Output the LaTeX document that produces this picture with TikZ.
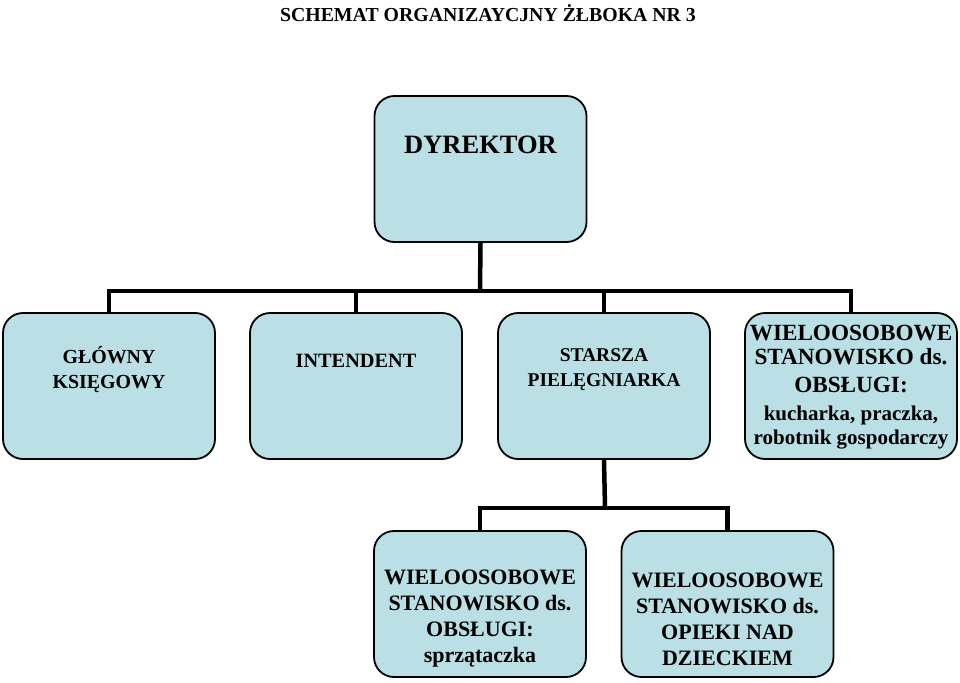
\documentclass[tikz,border=0pt]{standalone}
\usepackage{fontspec}
\setmainfont{Liberation Serif}
\definecolor{boxfill}{RGB}{186,223,228}
\begin{document}
\begin{tikzpicture}[x=1pt,y=-1pt,
  box/.style={draw=black, line width=1.8pt, fill=boxfill, rounded corners=20pt, minimum width=212pt, minimum height=146pt, inner sep=0pt},
  conn/.style={line width=4.5pt, line join=miter},
  txt/.style={align=center, font=\bfseries, inner sep=0pt}]
\useasboundingbox (0,0) rectangle (960,682);
\fill[white] (0,0) rectangle (960,682);
\node[txt, font=\bfseries\fontsize{19.8}{23}\selectfont] (title) at (488,13) {SCHEMAT ORGANIZAYCJNY ŻŁBOKA NR 3};
% boxes
\node[box] (dyr) at (480.5,169) {};
\node[box] (gk) at (109,386) {};
\node[box] (int) at (356,386) {};
\node[box] (sp) at (604,386) {};
\node[box] (wo) at (851,386) {};
\node[box] (ws) at (480,604) {};
\node[box] (wd) at (727.5,604) {};
% connectors
\coordinate (bus) at (480,291);
\coordinate (bus2) at (605,508);
\draw[conn] (dyr.south) -- (bus);
\draw[conn] (gk.north) |- (bus);
\draw[conn] (int.north) |- (bus);
\draw[conn] (sp.north) |- (bus);
\draw[conn] (wo.north) |- (bus);
\draw[conn] (sp.south) -- (bus2);
\draw[conn] (ws.north) |- (bus2);
\draw[conn] (wd.north) |- (bus2);
% texts
\node[txt, font=\bfseries\fontsize{26.5}{30}\selectfont] (tdyr) at (480.5,145) {DYREKTOR};
\node[txt, font=\bfseries\fontsize{19.9}{25}\selectfont] (tgk) at (109,369.5) {GŁÓWNY\\KSIĘGOWY};
\node[txt, font=\bfseries\fontsize{20.3}{25}\selectfont] (tint) at (356,360.5) {INTENDENT};
\node[txt, font=\bfseries\fontsize{19.5}{25}\selectfont] (tsp) at (604,369.5) {STARSZA\\PIELĘGNIARKA};
\node[txt, font=\bfseries\fontsize{23.2}{24}\selectfont] (two) at (851,387) {WIELOOSOBOWE\\STANOWISKO ds.\\[4pt]OBSŁUGI:\\[4pt]{\fontsize{21}{24}\selectfont kucharka, praczka,}\\{\fontsize{21}{24}\selectfont robotnik gospodarczy}};
\node[txt, font=\bfseries\fontsize{22}{26}\selectfont] (tws) at (480,619) {WIELOOSOBOWE\\STANOWISKO ds.\\OBSŁUGI:\\sprzątaczka};
\node[txt, font=\bfseries\fontsize{22}{26}\selectfont] (twd) at (727.5,619) {WIELOOSOBOWE\\STANOWISKO ds.\\OPIEKI NAD\\DZIECKIEM};
\end{tikzpicture}
\end{document}
